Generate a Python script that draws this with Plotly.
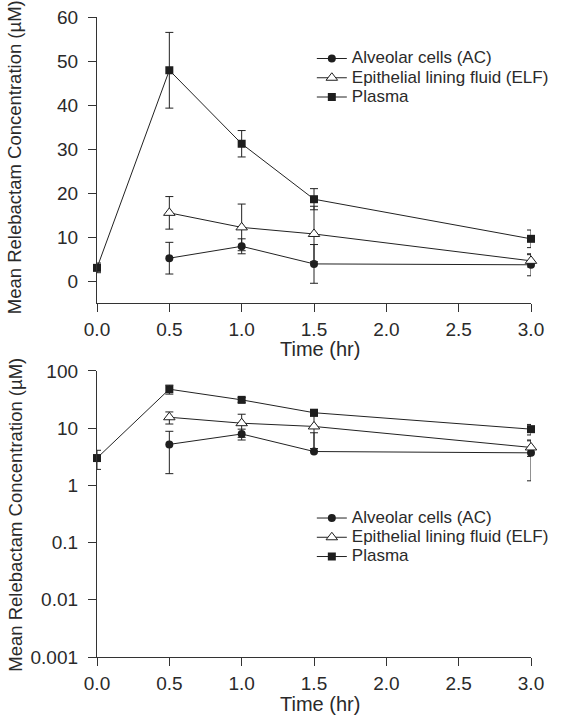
import plotly.graph_objects as go
from plotly.subplots import make_subplots

# ---- data ----
time = [0.0, 0.5, 1.0, 1.5, 3.0]
ac_mean = [None, 5.2, 7.9, 3.9, 3.7]
ac_sd = [None, 3.6, 1.7, 4.4, 2.5]
elf_mean = [None, 15.5, 12.2, 10.7, 4.6]
elf_sd = [None, 3.7, 5.3, 6.3, 1.4]
plasma_mean = [3.0, 47.9, 31.2, 18.6, 9.6]
plasma_sd = [1.1, 8.6, 3.0, 2.4, 2.0]

series_names = ["Alveolar cells (AC)", "Epithelial lining fluid (ELF)", "Plasma"]

x_ticks = [0.0, 0.5, 1.0, 1.5, 2.0, 2.5, 3.0]
lin_ticks = [0, 10, 20, 30, 40, 50, 60]
log_ticks = [0.001, 0.01, 0.1, 1, 10, 100]
log_ticklabels = ["0.001", "0.01", "0.1", "1", "10", "100"]

x_title = "Time (hr)"
y_title = "Mean Relebactam Concentration (µM)"

INK = "#222222"
TXT = "#2a2a2a"
FONT = "Liberation Sans, Arial, sans-serif"

markers = [
    dict(symbol="circle", size=8, color="#1e1e1e"),
    dict(symbol="triangle-up", size=10, color="white", line=dict(color="#1e1e1e", width=1)),
    dict(symbol="square", size=8, color="#1e1e1e"),
]
series = list(zip(series_names, [ac_mean, elf_mean, plasma_mean],
                  [ac_sd, elf_sd, plasma_sd], markers))

fig = make_subplots(rows=2, cols=1, vertical_spacing=0.106)


def legend_label(text):
    return '<span style="font-size:17px">' + text + '</span>'


for name, mean, sd, mk in series:
    xs = [t for t, m in zip(time, mean) if m is not None]
    ys = [m for m in mean if m is not None]
    es = [s for s, m in zip(sd, mean) if m is not None]
    # linear panel
    fig.add_trace(go.Scatter(
        x=xs, y=ys, name=legend_label(name), mode="lines+markers",
        line=dict(color=INK, width=1), marker=mk, cliponaxis=False,
        error_y=dict(type="data", array=es, color=INK, thickness=1, width=4),
        legend="legend"), row=1, col=1)
    # log panel: lower bars that would go below zero are not drawn
    es_minus = [e if (y - e) > 0 else 0 for y, e in zip(ys, es)]
    fig.add_trace(go.Scatter(
        x=xs, y=ys, name=legend_label(name), mode="lines+markers",
        line=dict(color=INK, width=1), marker=mk, cliponaxis=False,
        error_y=dict(type="data", symmetric=False, array=es, arrayminus=es_minus,
                     color=INK, thickness=1, width=4),
        legend="legend2"), row=2, col=1)

axis_common = dict(showline=True, linecolor="#333333", linewidth=1.3, ticks="outside",
                   ticklen=8, tickwidth=1.2, tickcolor="#333333", showgrid=False,
                   zeroline=False, automargin=False,
                   tickfont=dict(size=19, color=TXT, family=FONT))

for r in (1, 2):
    fig.update_xaxes(range=[0, 3], tickvals=x_ticks, tickformat=".1f", ticklabelstandoff=1,
                     row=r, col=1, **axis_common)

fig.update_yaxes(range=[-5, 60], tickvals=lin_ticks, row=1, col=1, ticklabelstandoff=6,
                 **axis_common)
fig.update_yaxes(type="log", range=[-3, 2], tickvals=log_ticks, ticktext=log_ticklabels,
                 row=2, col=1, ticklabelstandoff=6, **axis_common)

# axis titles placed as annotations (paper coordinates)
title_font_y = dict(size=18.5, color=TXT, family=FONT)
title_font_x = dict(size=20, color=TXT, family=FONT)
for yc in (0.7813, 0.2227):
    fig.add_annotation(text=y_title, xref="paper", yref="paper", x=-0.1883, y=yc,
                       xanchor="center", yanchor="middle", textangle=-90,
                       showarrow=False, font=title_font_y)
for yc in (0.4813, -0.0734):
    fig.add_annotation(text=x_title, xref="paper", yref="paper", x=0.513, y=yc,
                       xanchor="center", yanchor="middle",
                       showarrow=False, font=title_font_x)

legend_common = dict(font=dict(size=12.5, color=TXT, family=FONT), bgcolor="rgba(0,0,0,0)",
                     xanchor="left", yanchor="top", tracegroupgap=0, itemwidth=30)

fig.update_layout(
    width=566, height=718,
    margin=dict(l=97, r=15, t=17, b=61),
    paper_bgcolor="white", plot_bgcolor="white",
    font=dict(family=FONT, color=TXT),
    legend=dict(x=0.495, y=0.958, **legend_common),
    legend2=dict(x=0.495, y=0.240, **legend_common),
)

# remove the browser's default 8px body margin so the figure fills the window exactly
fig.write_html("out.html", config={"displayModeBar": False},
               post_script="document.body.style.margin='0px';")
